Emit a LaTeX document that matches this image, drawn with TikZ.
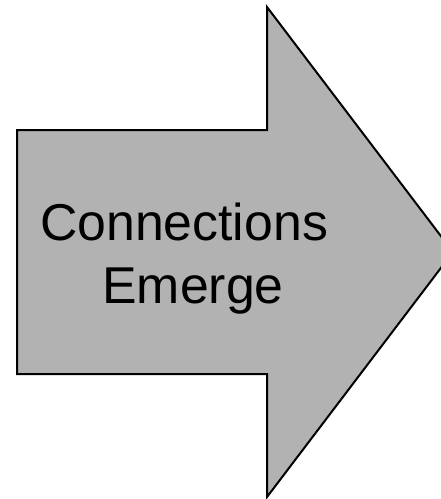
\documentclass[tikz,border=0pt]{standalone}
\usepackage{fontspec}
\setmainfont{Liberation Sans}
\definecolor{arrowgray}{RGB}{178,178,178}
\tikzset{
  bigarrow/.style={draw=black, line width=2pt, fill=arrowgray, line join=miter},
  label/.style={font=\fontsize{51.8}{62}\selectfont, inner sep=0pt, anchor=base}
}
\begin{document}
\begin{tikzpicture}[x=1pt,y=-1pt]
    \useasboundingbox (0,0) rectangle (441,499);
    \clip (0,0) rectangle (441,499);
    \draw[bigarrow] (17,130) -- (267,130) -- (267,7) -- (453,252)
      -- (267,497) -- (267,374) -- (17,374) -- cycle;
    \node[label] (conn) at (184,240) {Connections};
    \node[label] (emerge) at (193,303) {Emerge};
  \end{tikzpicture}
\end{document}
